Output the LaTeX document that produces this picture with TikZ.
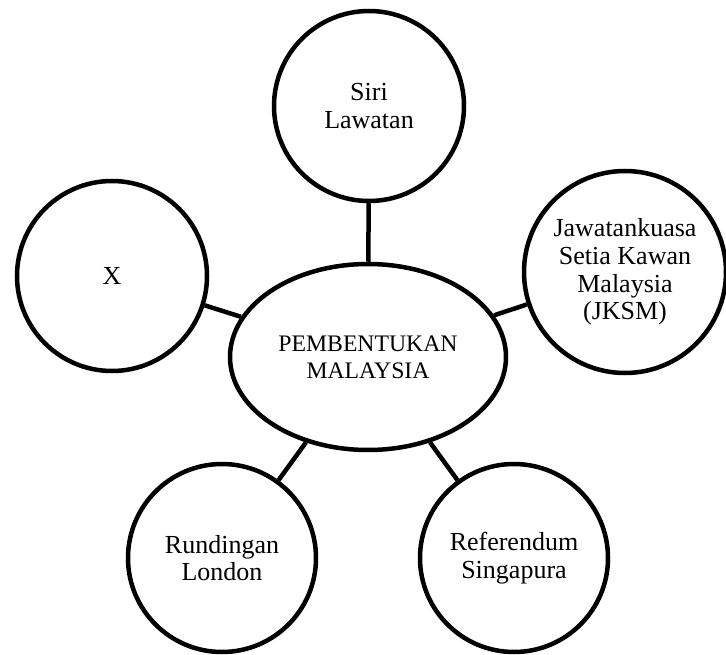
\documentclass[tikz,border=0pt]{standalone}
\usepackage{fontspec}
\setmainfont{Liberation Serif}
\usetikzlibrary{shapes.geometric}
\begin{document}
\begin{tikzpicture}[x=1pt,y=-1pt,
  bubble/.style={draw, line width=4.5pt, circle, inner sep=0pt, align=center,
    font=\fontsize{26}{27.7}\selectfont},
  hub/.style={draw, line width=4.5pt, ellipse, inner sep=0pt, align=center,
    minimum width=276pt, minimum height=186pt, font=\fontsize{23.7}{27}\selectfont},
  link/.style={line width=4.5pt}]
\useasboundingbox (0,0) rectangle (726,655);
\node[hub] (c) at (368,357) {PEMBENTUKAN\\MALAYSIA};
\node[bubble, minimum size=190pt] (t) at (369,106) {Siri\\Lawatan};
\node[bubble, minimum size=190pt] (l) at (112,276) {X};
\node[bubble, minimum size=202pt] (r) at (625,272) {Jawatankuasa\\Setia Kawan\\Malaysia\\(JKSM)};
\node[bubble, minimum size=188pt] (bl) at (222,558) {Rundingan\\London};
\node[bubble, minimum size=188pt] (br) at (514,558) {Referendum\\Singapura};
\draw[link] (t) -- (c);
\draw[link] (l) -- (c);
\draw[link] (r) -- (c);
\draw[link] (bl) -- (c);
\draw[link] (br) -- (c);
\end{tikzpicture}
\end{document}
